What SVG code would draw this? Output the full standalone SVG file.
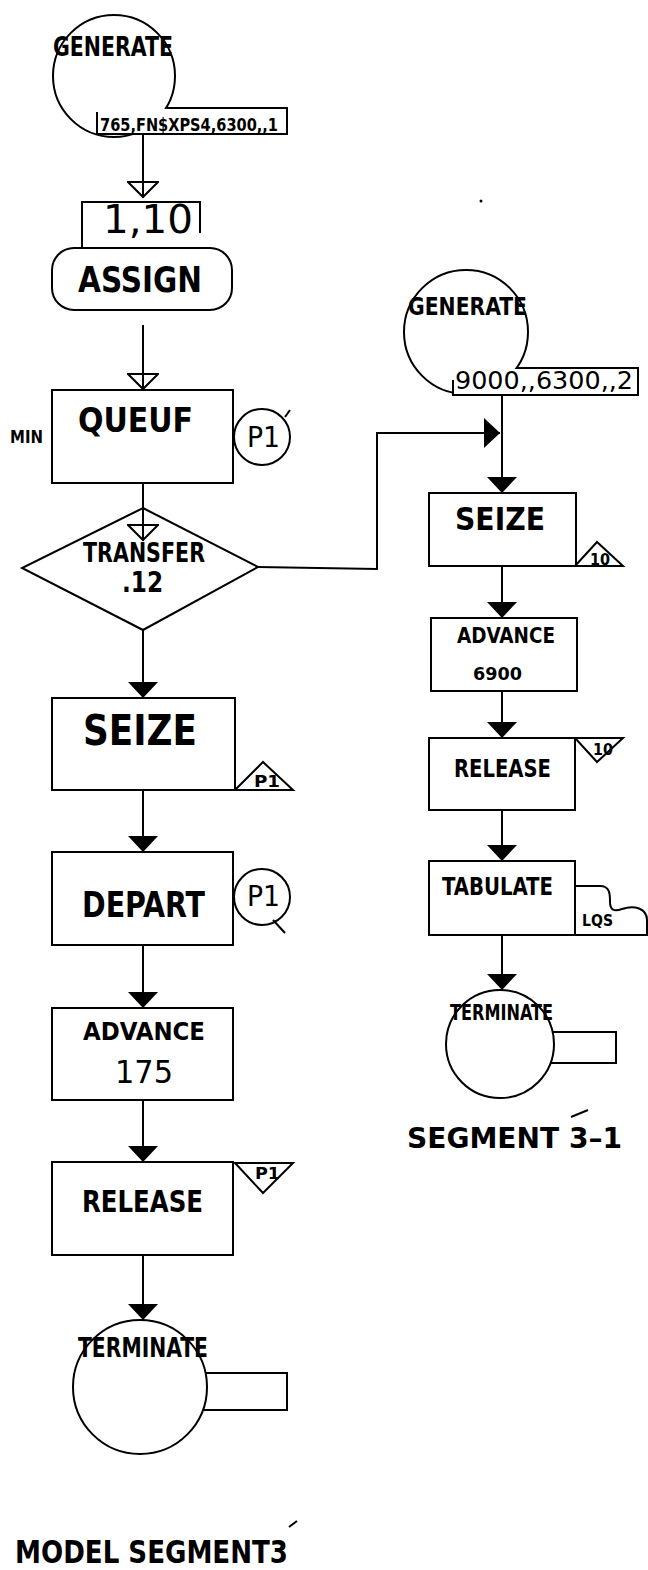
<svg xmlns="http://www.w3.org/2000/svg" width="648" height="1570" viewBox="0 0 648 1570">
<style>
.s{fill:none;stroke:#000;stroke-width:2}
.w{fill:#fff;stroke:#000;stroke-width:2}
.wf{fill:#fff;stroke:none}
.t{font-family:"DejaVu Sans Condensed","DejaVu Sans","Liberation Sans",sans-serif;fill:#000;font-weight:bold}
.n{font-weight:normal}
.c{fill:none;stroke:#000;stroke-width:2}
.fa{marker-end:url(#filled)}
.ha{marker-end:url(#hollow)}
</style>
<defs>
<marker id="filled" viewBox="0 0 16 30" refX="16" refY="15" markerWidth="16" markerHeight="30" markerUnits="userSpaceOnUse" orient="auto">
<path d="M0,0 L16,15 L0,30 z" fill="#000"/>
</marker>
<marker id="hollow" viewBox="-1 -1 18 32" refX="16" refY="15" markerWidth="18" markerHeight="32" markerUnits="userSpaceOnUse" orient="auto">
<path d="M0,0 L15,15 L0,30 z" fill="#fff" stroke="#000" stroke-width="2"/>
<path d="M0,15 L15,15" stroke="#000" stroke-width="2"/>
</marker>
</defs>

<g id="connectors">
<line class="c ha" x1="143" y1="134" x2="143" y2="198"/>
<line class="c ha" x1="143" y1="325" x2="143" y2="390"/>
<line class="c ha" x1="143" y1="483" x2="143" y2="541"/>
<line class="c fa" x1="143" y1="630" x2="143" y2="698"/>
<line class="c fa" x1="143" y1="790" x2="143" y2="852"/>
<line class="c fa" x1="143" y1="945" x2="143" y2="1008"/>
<line class="c fa" x1="143" y1="1100" x2="143" y2="1162"/>
<line class="c fa" x1="143" y1="1255" x2="143" y2="1320"/>
<polyline class="c fa" points="258,567 377,569 377,433 500,433"/>
<line class="c fa" x1="502" y1="395" x2="502" y2="493"/>
<line class="c fa" x1="502" y1="566" x2="502" y2="618"/>
<line class="c fa" x1="502" y1="691" x2="502" y2="738"/>
<line class="c fa" x1="502" y1="810" x2="502" y2="861"/>
<line class="c fa" x1="502" y1="935" x2="502" y2="990"/>
</g>

<g id="generate1">
<circle class="w" cx="114" cy="76" r="61"/>
<rect class="wf" x="97" y="109" width="190" height="25"/>
<path class="s" d="M167,108 H287 V134 H97 V112"/>
<text class="t" x="53" y="56" font-size="26" textLength="120" lengthAdjust="spacingAndGlyphs">GENERATE</text>
<text class="t" x="100" y="131" font-size="17" textLength="178" lengthAdjust="spacingAndGlyphs">765,FN$XPS4,6300,,1</text>
</g>

<g id="assign">
<path class="s" d="M82,248 V202 H200 V233"/>
<rect class="w" x="52" y="248" width="180" height="62" rx="22"/>
<text class="t n" x="103" y="233" font-size="39" textLength="90" lengthAdjust="spacingAndGlyphs">1,10</text>
<text class="t" x="78" y="292" font-size="35" textLength="124" lengthAdjust="spacingAndGlyphs">ASSIGN</text>
</g>

<g id="queue">
<rect class="w" x="52" y="390" width="181" height="93"/>
<text class="t" x="78" y="432" font-size="33" textLength="115" lengthAdjust="spacingAndGlyphs">QUEUF</text>
<text class="t" x="10" y="443" font-size="18" textLength="33" lengthAdjust="spacingAndGlyphs">MIN</text>
<circle class="w" cx="262" cy="437" r="28"/>
<line class="s" x1="285" y1="417" x2="290" y2="410"/>
<text class="t n" x="247" y="447" font-size="28" textLength="33" lengthAdjust="spacingAndGlyphs">P1</text>
</g>

<g id="transfer">
<path class="s" d="M143,508 L258,567 L143,630 L22,568 Z"/>
<line class="c" x1="143" y1="483" x2="143" y2="541"/>
<text class="t" x="83" y="562" font-size="26" textLength="122" lengthAdjust="spacingAndGlyphs">TRANSFER</text>
<text class="t" x="122" y="592" font-size="28" textLength="41" lengthAdjust="spacingAndGlyphs">.12</text>
</g>

<g id="seize1">
<rect class="w" x="52" y="698" width="183" height="92"/>
<text class="t" x="83" y="745" font-size="42" textLength="114" lengthAdjust="spacingAndGlyphs">SEIZE</text>
<path class="s" d="M235,790 L263,762 L293,790 Z"/>
<text class="t" x="254" y="787" font-size="16" textLength="26" lengthAdjust="spacingAndGlyphs">P1</text>
</g>

<g id="depart">
<rect class="w" x="52" y="852" width="181" height="93"/>
<text class="t" x="82" y="917" font-size="35" textLength="123" lengthAdjust="spacingAndGlyphs">DEPART</text>
<circle class="w" cx="262" cy="897" r="28"/>
<line class="s" x1="273" y1="920" x2="285" y2="933"/>
<text class="t n" x="247" y="906" font-size="28" textLength="33" lengthAdjust="spacingAndGlyphs">P1</text>
</g>

<g id="advance1">
<rect class="w" x="52" y="1008" width="181" height="92"/>
<text class="t" x="83" y="1040" font-size="25" textLength="122" lengthAdjust="spacingAndGlyphs">ADVANCE</text>
<text class="t n" x="115" y="1083" font-size="32" textLength="58" lengthAdjust="spacingAndGlyphs">175</text>
</g>

<g id="release1">
<rect class="w" x="52" y="1162" width="181" height="93"/>
<text class="t" x="82" y="1212" font-size="30" textLength="121" lengthAdjust="spacingAndGlyphs">RELEASE</text>
<path class="s" d="M235,1163 L293,1163 L263,1193 Z"/>
<text class="t" x="255" y="1179" font-size="15" textLength="25" lengthAdjust="spacingAndGlyphs">P1</text>
</g>

<g id="terminate1">
<rect class="w" x="190" y="1373" width="97" height="37"/>
<circle class="w" cx="140" cy="1387" r="67"/>
<text class="t" x="78" y="1357" font-size="26" textLength="130" lengthAdjust="spacingAndGlyphs">TERMINATE</text>
</g>

<g id="title1">
<text class="t" x="15" y="1563" font-size="32" textLength="273" lengthAdjust="spacingAndGlyphs">MODEL SEGMENT3</text>
<line class="s" x1="289" y1="1527" x2="297" y2="1521"/>
</g>

<g id="dot">
<circle cx="481" cy="201" r="1.5" fill="#000"/>
</g>

<g id="generate2">
<circle class="w" cx="466" cy="332" r="62"/>
<rect class="wf" x="453" y="369" width="185" height="26"/>
<path class="s" d="M517,368 H638 V395 H453 V380"/>
<text class="t" x="408" y="315" font-size="24" textLength="119" lengthAdjust="spacingAndGlyphs">GENERATE</text>
<text class="t n" x="455" y="389" font-size="25" textLength="178" lengthAdjust="spacingAndGlyphs">9000,,6300,,2</text>
</g>

<g id="seize2">
<rect class="w" x="429" y="493" width="147" height="73"/>
<text class="t" x="455" y="530" font-size="32" textLength="90" lengthAdjust="spacingAndGlyphs">SEIZE</text>
<path class="s" d="M575,566 L597,542 L623,566 Z"/>
<text class="t" x="590" y="565" font-size="15" textLength="20" lengthAdjust="spacingAndGlyphs">10</text>
</g>

<g id="advance2">
<rect class="w" x="431" y="618" width="146" height="73"/>
<text class="t" x="457" y="643" font-size="21" textLength="98" lengthAdjust="spacingAndGlyphs">ADVANCE</text>
<text class="t" x="473" y="680" font-size="18" textLength="49" lengthAdjust="spacingAndGlyphs">6900</text>
</g>

<g id="release2">
<rect class="w" x="429" y="738" width="146" height="72"/>
<text class="t" x="454" y="777" font-size="24" textLength="97" lengthAdjust="spacingAndGlyphs">RELEASE</text>
<path class="s" d="M575,738 L623,738 L597,762 Z"/>
<text class="t" x="593" y="755" font-size="15" textLength="20" lengthAdjust="spacingAndGlyphs">10</text>
</g>

<g id="tabulate">
<rect class="w" x="429" y="861" width="146" height="74"/>
<path class="s" d="M575,886 H600 C610,886 610,894 610,902 C610,910 614,912 622,909 C634,905 647,908 647,920 V935 H575"/>
<text class="t" x="442" y="895" font-size="25" textLength="111" lengthAdjust="spacingAndGlyphs">TABULATE</text>
<text class="t" x="582" y="926" font-size="16" textLength="31" lengthAdjust="spacingAndGlyphs">LQS</text>
</g>

<g id="terminate2">
<rect class="w" x="540" y="1032" width="76" height="31"/>
<circle class="w" cx="500" cy="1044" r="54"/>
<text class="t" x="450" y="1020" font-size="21" textLength="103" lengthAdjust="spacingAndGlyphs">TERMINATE</text>
</g>

<g id="title2">
<text class="t" x="407" y="1148" font-size="29" textLength="215" lengthAdjust="spacingAndGlyphs">SEGMENT 3–1</text>
<line class="s" x1="571" y1="1117" x2="588" y2="1110"/>
</g>
</svg>
